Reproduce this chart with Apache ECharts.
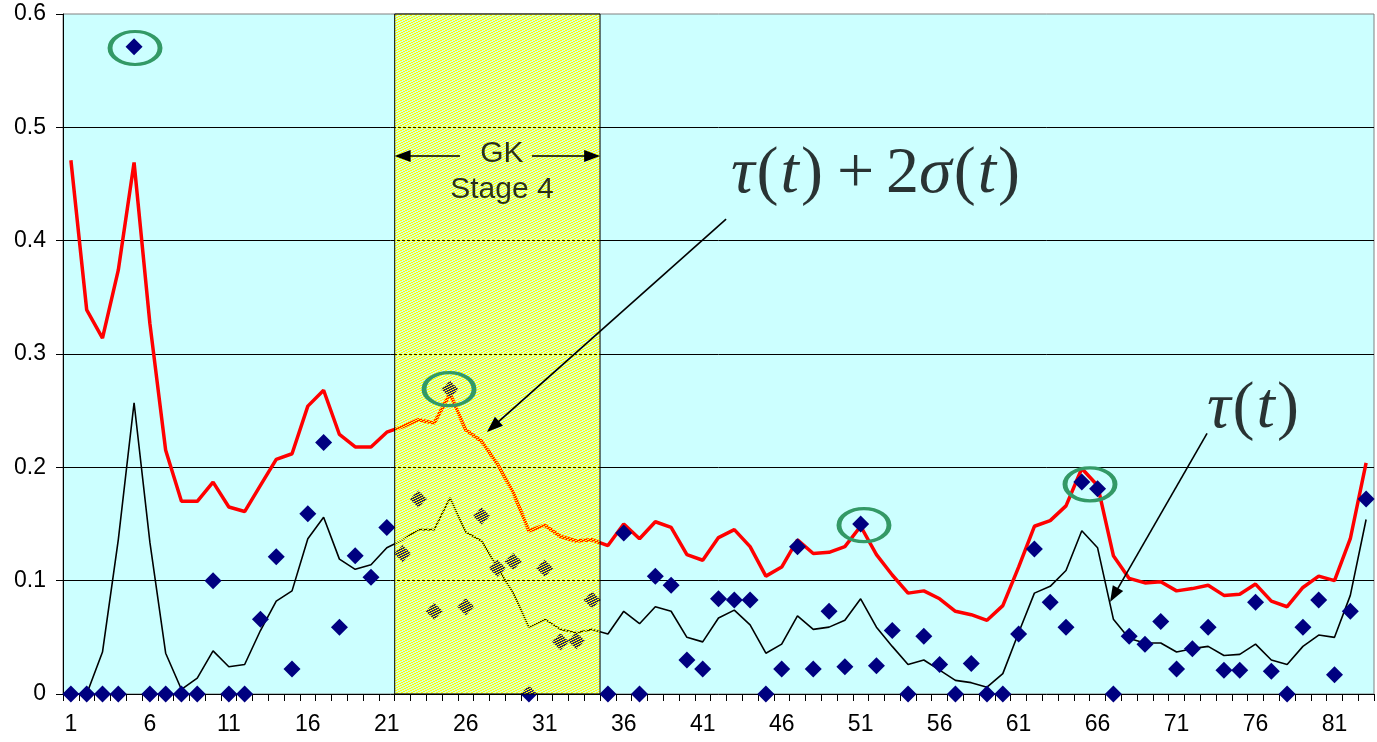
<!DOCTYPE html>
<html>
<head>
<meta charset="utf-8">
<script src="https://cdn.jsdelivr.net/npm/echarts@6/dist/echarts.min.js"></script>
<style>
  html, body { margin: 0; padding: 0; background: #ffffff; }
  #chart { width: 1377px; height: 742px; }
</style>
</head>
<body>
<div id="chart"></div>
<script>
// Time steps on the horizontal axis
const periods = ['1','2','3','4','5','6','7','8','9','10','11','12','13','14','15','16','17','18','19','20',
  '21','22','23','24','25','26','27','28','29','30','31','32','33','34','35','36','37','38','39','40',
  '41','42','43','44','45','46','47','48','49','50','51','52','53','54','55','56','57','58','59','60',
  '61','62','63','64','65','66','67','68','69','70','71','72','73','74','75','76','77','78','79','80',
  '81','82','83'];

// Observed values (diamonds)
const observed = [0, 0, 0, 0, 0.571, 0, 0, 0, 0, 0.100,
  0, 0, 0.066, 0.121, 0.022, 0.159, 0.222, 0.059, 0.122, 0.103,
  0.147, 0.124, 0.172, 0.073, 0.269, 0.077, 0.157, 0.111, 0.117, 0,
  0.111, 0.046, 0.047, 0.083, 0, 0.142, 0, 0.104, 0.096, 0.030,
  0.022, 0.084, 0.083, 0.083, 0, 0.022, 0.130, 0.022, 0.073, 0.024,
  0.150, 0.025, 0.056, 0, 0.051, 0.026, 0, 0.027, 0, 0,
  0.053, 0.128, 0.081, 0.059, 0.187, 0.181, 0, 0.051, 0.044, 0.064,
  0.022, 0.040, 0.059, 0.021, 0.021, 0.081, 0.020, 0, 0.059, 0.083,
  0.017, 0.073, 0.172];

// Upper band: tau(t) + 2 sigma(t)
const upperBand = [0.471, 0.339, 0.314, 0.374, 0.469, 0.327, 0.215, 0.170, 0.170, 0.187,
  0.165, 0.161, 0.184, 0.207, 0.212, 0.254, 0.268, 0.229, 0.218, 0.218,
  0.231, 0.236, 0.242, 0.239, 0.265, 0.233, 0.223, 0.203, 0.178, 0.144,
  0.149, 0.139, 0.135, 0.136, 0.131, 0.150, 0.137, 0.152, 0.147, 0.123,
  0.118, 0.138, 0.145, 0.130, 0.104, 0.112, 0.136, 0.124, 0.125, 0.130,
  0.148, 0.123, 0.105, 0.089, 0.091, 0.084, 0.073, 0.070, 0.065, 0.078,
  0.112, 0.148, 0.153, 0.166, 0.199, 0.184, 0.122, 0.102, 0.098, 0.099,
  0.091, 0.093, 0.096, 0.087, 0.088, 0.097, 0.082, 0.077, 0.094, 0.104,
  0.100, 0.137, 0.204];

// Running level tau(t)
const trend = [0, 0, 0.037, 0.136, 0.257, 0.134, 0.036, 0.004, 0.014, 0.038,
  0.024, 0.026, 0.056, 0.082, 0.091, 0.137, 0.156, 0.119, 0.110, 0.114,
  0.129, 0.136, 0.145, 0.145, 0.173, 0.143, 0.135, 0.112, 0.089, 0.059,
  0.066, 0.057, 0.054, 0.057, 0.053, 0.073, 0.062, 0.077, 0.073, 0.050,
  0.046, 0.067, 0.074, 0.061, 0.036, 0.044, 0.069, 0.057, 0.059, 0.065,
  0.084, 0.059, 0.042, 0.026, 0.030, 0.021, 0.012, 0.010, 0.006, 0.018,
  0.054, 0.089, 0.095, 0.109, 0.144, 0.129, 0.066, 0.049, 0.045, 0.045,
  0.037, 0.040, 0.042, 0.034, 0.035, 0.044, 0.030, 0.026, 0.042, 0.052,
  0.050, 0.087, 0.154];

// Stage 4 window, in period units (band edges)
const stageSpan = [21.5, 34.5];

// Annotation anchors in [period, value] units
const circled = [[5.06, 0.570], [24.94, 0.269], [51.21, 0.149], [65.52, 0.185]];
const pointerArrows = [
  [[42.48, 0.419], [27.72, 0.2359]],
  [[72.93, 0.230], [67.04, 0.0873]]
];
const stageArrows = [
  [[25.63, 0.4747], [22.0, 0.4747]],
  [[30.19, 0.4747], [34.0, 0.4747]]
];
const formulaAt = [52.0, 0.458];
const tauAt = [75.9, 0.2506];
const gkAt = [28.29, 0.477];
const stageAt = [28.29, 0.4447];

// Fine yellow screen over the stage window (two of every five pixels solid, the rest tinted)
function screenPattern() {
  const n = 5;
  const c = document.createElement('canvas');
  c.width = n; c.height = n;
  const g = c.getContext('2d');
  for (let y = 0; y < n; y++) {
    for (let x = 0; x < n; x++) {
      g.fillStyle = ((x + 2 * y) % n < 2) ? '#ffff00' : 'rgba(255,255,0,0.15)';
      g.fillRect(x, y, 1, 1);
    }
  }
  return c;
}

const chart = echarts.init(document.getElementById('chart'), null, { renderer: 'canvas' });

const sans = 'Liberation Sans, Arial, sans-serif';
const serif = 'Liberation Serif, Times New Roman, serif';

function noteSeries(pos, formatter, rich, z, font) {
  const label = { show: true, position: 'inside', formatter: formatter, color: '#000' };
  if (rich) label.rich = rich;
  if (font) Object.assign(label, font);
  return {
    type: 'scatter', xAxisIndex: 1, yAxisIndex: 0, silent: true, z: z,
    symbolSize: 1, itemStyle: { color: 'rgba(0,0,0,0)' },
    data: [pos],
    label: label
  };
}

const mathSize = 66;
const formulaRich = {
  i: { fontFamily: serif, fontStyle: 'italic', fontSize: mathSize, color: '#000' },
  u: { fontFamily: serif, fontSize: mathSize, color: '#000' },
  q: { fontFamily: serif, fontSize: mathSize, color: '#000', padding: [0, 2, 0, 2] },
  p: { fontFamily: serif, fontSize: mathSize, color: '#000', padding: [0, 12, 0, 12] }
};

const option = {
  animation: false,
  backgroundColor: '#ffffff',
  grid: {
    left: 63, right: 3, top: 14, bottom: 48,
    show: true, backgroundColor: '#CCFFFF', borderColor: '#808080', borderWidth: 1
  },
  xAxis: [
    {
      type: 'category', data: periods, boundaryGap: true,
      axisLine: { show: true, lineStyle: { color: '#000', width: 1 } },
      axisTick: { show: true, interval: 0, length: 7, lineStyle: { color: '#000' } },
      axisLabel: { interval: 4, margin: 19, color: '#000', fontFamily: sans, fontSize: 23 },
      splitLine: { show: false }
    },
    {
      type: 'value', min: 0.5, max: 83.5, show: false,
      splitLine: { show: false }
    }
  ],
  yAxis: [{
    type: 'value', min: 0, max: 0.6, interval: 0.1,
    axisLine: { show: true, lineStyle: { color: '#000', width: 1 } },
    axisTick: { show: true, length: 7, lineStyle: { color: '#000' } },
    axisLabel: { margin: 17, color: '#000', fontFamily: sans, fontSize: 23,
      formatter: v => (Math.round(v * 10) / 10).toString() },
    splitLine: { show: true, showMinLine: false, showMaxLine: false, lineStyle: { color: '#000', width: 1 } }
  }],
  series: [
    {
      name: 'tau+2sigma', type: 'line', data: upperBand, z: 2, silent: true,
      showSymbol: false, symbol: 'none',
      lineStyle: { color: '#ff0000', width: 3.5 }
    },
    {
      name: 'tau', type: 'line', data: trend, z: 2, silent: true,
      showSymbol: false, symbol: 'none',
      lineStyle: { color: '#000000', width: 1.6 }
    },
    {
      name: 'observed', type: 'scatter', data: observed, z: 3, silent: true,
      symbol: 'diamond', symbolSize: 17,
      itemStyle: { color: '#000080', opacity: 1 }
    },
    {
      name: 'stage', type: 'scatter', xAxisIndex: 1, yAxisIndex: 0, data: [], silent: true, z: 4,
      markArea: {
        silent: true, z: 4,
        itemStyle: {
          color: { image: screenPattern(), repeat: 'repeat' },
          opacity: 1,
          borderColor: '#000', borderWidth: 1
        },
        label: { show: false },
        data: [[{ xAxis: stageSpan[0], yAxis: 0 }, { xAxis: stageSpan[1], yAxis: 0.6 }]]
      }
    },
    {
      name: 'rings', type: 'scatter', xAxisIndex: 1, yAxisIndex: 0, silent: true, z: 6,
      data: circled, symbol: 'circle', symbolSize: [50, 33],
      itemStyle: { color: 'rgba(0,0,0,0)', borderColor: '#339966', borderWidth: 4, opacity: 1 }
    },
    {
      name: 'pointers', type: 'scatter', xAxisIndex: 1, yAxisIndex: 0, data: [], silent: true, z: 7,
      markLine: {
        silent: true, z: 7, animation: false,
        symbol: ['none', 'triangle'], symbolSize: [12, 16],
        label: { show: false },
        lineStyle: { color: '#000', width: 1.6, type: 'solid', opacity: 1 },
        emphasis: { disabled: true },
        data: pointerArrows.concat(stageArrows).map(seg => [
          { coord: seg[0], symbol: 'none' },
          { coord: seg[1], symbol: 'triangle' }
        ])
      }
    },
    noteSeries(formulaAt, '{i|τ}{q|(}{i|t}{q|)}{p|+}{u|2}{i|σ}{q|(}{i|t}{q|)}', formulaRich, 8),
    noteSeries(tauAt, '{i|τ}{q|(}{i|t}{q|)}', formulaRich, 8),
    noteSeries(gkAt, 'GK', null, 8, { fontFamily: sans, fontSize: 30 }),
    noteSeries(stageAt, 'Stage 4', null, 8, { fontFamily: sans, fontSize: 30 })
  ]
};

chart.setOption(option);
</script>
</body>
</html>
